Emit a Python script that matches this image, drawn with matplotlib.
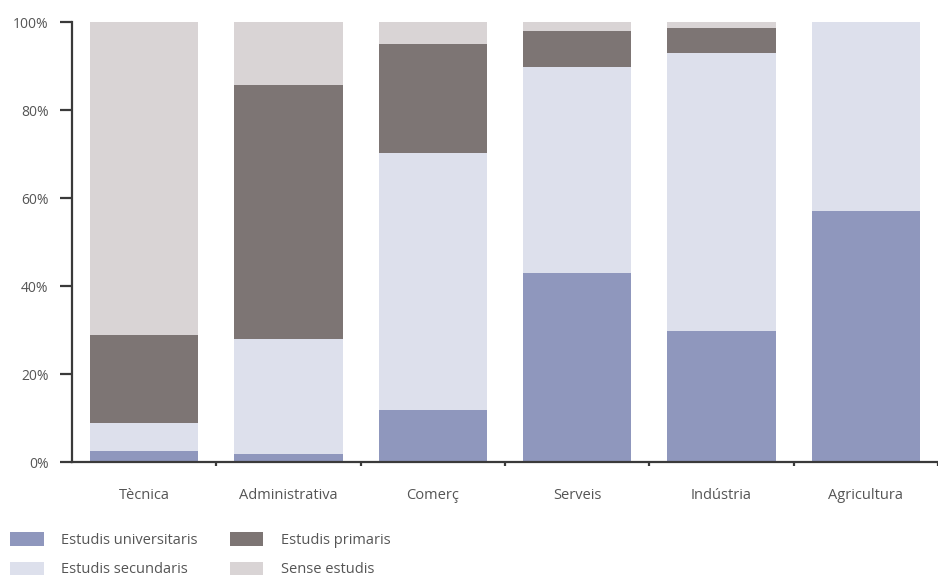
import matplotlib
matplotlib.use("Agg")
import matplotlib.pyplot as plt
from matplotlib.patches import Patch
import numpy as np

plt.rcParams["font.family"] = ["Open Sans", "DejaVu Sans"]

categories = ["Tècnica", "Administrativa", "Comerç", "Serveis", "Indústria", "Agricultura"]
universitaris = [2.5, 1.8, 11.8, 43.0, 29.8, 57.0]
secundaris = [6.4, 26.2, 58.4, 46.8, 63.2, 43.0]
primaris = [20.0, 57.7, 24.8, 8.2, 5.6, 0.0]
sense = [71.1, 14.3, 5.0, 2.0, 1.4, 0.0]

series_labels = ["Estudis universitaris", "Estudis secundaris", "Estudis primaris", "Sense estudis"]
colors = ["#8f97bd", "#dde0ec", "#7d7574", "#d9d4d5"]
text_color = "#555555"
axis_color = "#3a3a3a"

fig = plt.figure(figsize=(9.38, 5.8), dpi=100)
ax = fig.add_axes([72 / 938, 118 / 580, 866 / 938, 440 / 580])

x = np.arange(len(categories))
bottom = np.zeros(len(categories))
for values, color in zip([universitaris, secundaris, primaris, sense], colors):
    ax.bar(x, values, width=0.75, bottom=bottom, color=color, linewidth=0)
    bottom = bottom + np.array(values)

ax.set_xlim(-0.5, -0.5 + 866 / 145)
ax.set_ylim(0, 100)

for side in ["top", "right"]:
    ax.spines[side].set_visible(False)
for side in ["left", "bottom"]:
    ax.spines[side].set_color(axis_color)
    ax.spines[side].set_linewidth(1.6)

ax.set_yticks([0, 20, 40, 60, 80, 100])
ax.set_yticklabels([f"{v}%" for v in [0, 20, 40, 60, 80, 100]])
ax.tick_params(axis="y", length=9, width=1.6, color=axis_color, labelsize=10, labelcolor=text_color, pad=8)

ax.set_xticks(x)
ax.set_xticklabels(categories)
ax.tick_params(axis="x", which="major", length=0, labelsize=10.5, labelcolor=text_color, pad=19)
ax.set_xticks(np.arange(len(categories)) + 0.5, minor=True)
ax.tick_params(axis="x", which="minor", length=3, width=1.6, color=axis_color)

handles = [Patch(facecolor=c, edgecolor="none", label=l) for c, l in zip(colors, series_labels)]
fig.legend(
    handles=handles,
    loc="lower left",
    bbox_to_anchor=(-0.003, -0.018),
    ncol=2,
    frameon=False,
    fontsize=10.5,
    labelcolor=text_color,
    handlelength=2.3,
    handleheight=1.05,
    handletextpad=1.2,
    columnspacing=2.2,
    labelspacing=0.95,
)

fig.savefig("out.png", dpi=100, facecolor="white")
